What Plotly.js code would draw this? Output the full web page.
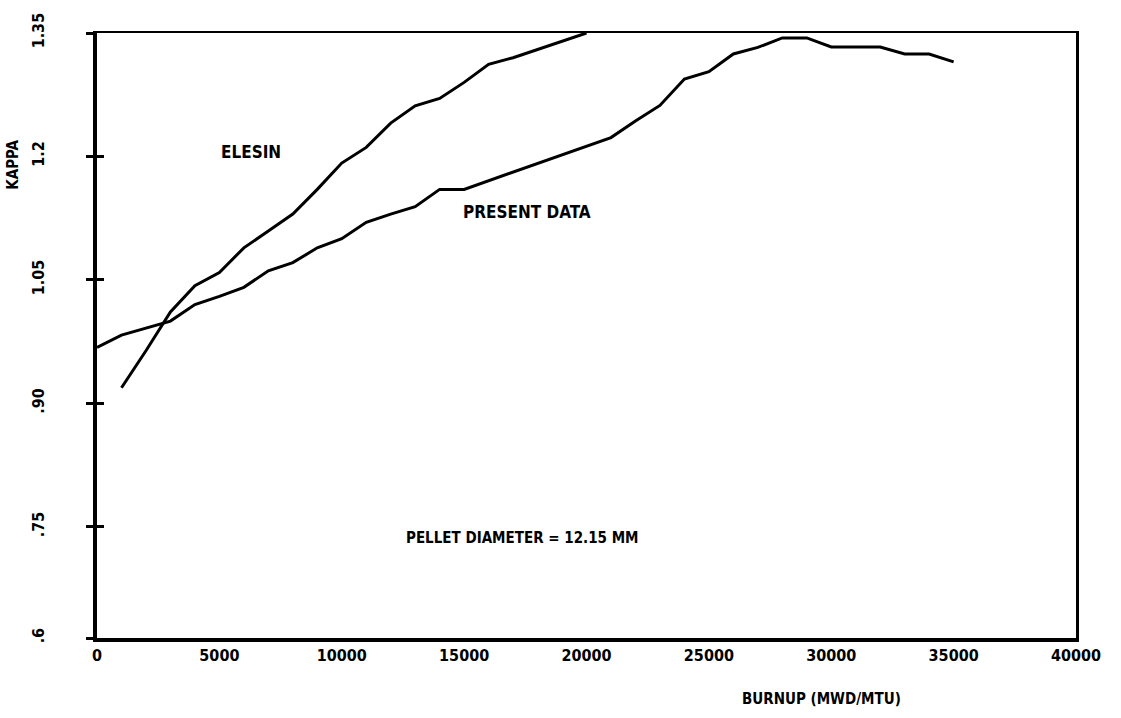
<!DOCTYPE html>
<html>
<head>
<meta charset="utf-8">
<script src="https://cdn.plot.ly/plotly-3.0.1.min.js"></script>
<style>html,body{margin:0;padding:0;background:#fff;}#chart{width:1121px;height:718px;}</style>
</head>
<body>
<div id="chart"></div>
<script>
// Burnup (MWD/MTU)
const presentBurnup = [0, 1000, 3000, 4000, 5000, 6000, 7000, 8000, 9000, 10000, 11000, 12000, 13000, 14000, 15000, 21000, 22000, 23000, 24000, 25000, 26000, 27000, 28000, 29000, 30000, 31000, 32000, 33000, 34000, 35000];
const presentKappa  = [0.968, 0.983, 1.000, 1.020, 1.030, 1.041, 1.061, 1.071, 1.089, 1.100, 1.120, 1.130, 1.139, 1.160, 1.160, 1.223, 1.243, 1.262, 1.294, 1.303, 1.3245, 1.3325, 1.344, 1.344, 1.333, 1.333, 1.333, 1.3245, 1.3245, 1.315];

const elesinBurnup = [1000, 2000, 3000, 4000, 5000, 6000, 7000, 8000, 9000, 10000, 11000, 12000, 13000, 14000, 15000, 16000, 17000, 18000, 19000, 20000];
const elesinKappa  = [0.919, 0.964, 1.011, 1.043, 1.059, 1.089, 1.1095, 1.130, 1.160, 1.192, 1.211, 1.2405, 1.2616, 1.2705, 1.290, 1.312, 1.320, 1.330, 1.3395, 1.350];

const xTickVals = [0, 5000, 10000, 15000, 20000, 25000, 30000, 35000, 40000];
const xTickText = ['0', '5000', '10000', '15000', '20000', '25000', '30000', '35000', '40000'];
// the original's lowest tick (".6") sits at the corner, slightly closer than the other intervals
const yTickVals = [0.615, 0.75, 0.9, 1.05, 1.2, 1.35];
const yTickText = ['.6', '.75', '.90', '1.05', '1.2', '1.35'];

const curveLabels = [
  {x: 6300, y: 1.206, text: 'ELESIN', size: 17},
  {x: 17550, y: 1.133, text: 'PRESENT DATA', size: 17},
  {x: 17400, y: 0.736, text: 'PELLET DIAMETER = 12.15 MM', size: 15}
];

const FONT = 'Liberation Sans Narrow, DejaVu Sans Condensed, Arial Narrow, sans-serif';
const font = (s) => ({family: FONT, size: s, color: '#000', weight: 'bold'});
const YR = [0.615, 1.35];

const traces = [
  {x: presentBurnup, y: presentKappa, type: 'scatter', mode: 'lines', line: {color: '#000', width: 3}, hoverinfo: 'skip'},
  {x: elesinBurnup, y: elesinKappa, type: 'scatter', mode: 'lines', line: {color: '#000', width: 3}, hoverinfo: 'skip'},
  {x: [null], y: [null], yaxis: 'y2', type: 'scatter', mode: 'lines', hoverinfo: 'skip'},
  {x: [null], y: [null], yaxis: 'y3', type: 'scatter', mode: 'lines', hoverinfo: 'skip'},
  {x: [null], y: [null], xaxis: 'x2', type: 'scatter', mode: 'lines', hoverinfo: 'skip'}
];

const annotations = curveLabels.map(l => ({
  x: l.x, y: l.y, xref: 'x', yref: 'y', text: l.text, showarrow: false,
  xanchor: 'center', yanchor: 'middle', font: font(l.size)
}));
annotations.push({xref: 'paper', yref: 'paper', x: -0.086, y: 0.782, xanchor: 'center', yanchor: 'middle',
  text: 'KAPPA', textangle: -90, showarrow: false, font: font(15)});
annotations.push({xref: 'paper', yref: 'paper', x: 0.74, y: -0.10, xanchor: 'center', yanchor: 'middle',
  text: 'BURNUP (MWD/MTU)', showarrow: false, font: font(15)});

const layout = {
  width: 1121, height: 718,
  margin: {l: 97, r: 45, t: 33, b: 80},
  paper_bgcolor: '#fff', plot_bgcolor: '#fff',
  showlegend: false,
  xaxis: {
    range: [0, 40000], tickvals: xTickVals, ticktext: xTickText,
    showgrid: false, zeroline: false, showline: true, linecolor: '#000', linewidth: 4,
    ticks: '', tickfont: font(16)
  },
  xaxis2: {
    overlaying: 'x', matches: 'x', side: 'top', range: [0, 40000],
    showgrid: false, zeroline: false, showline: true, linecolor: '#000', linewidth: 2,
    ticks: '', showticklabels: false
  },
  yaxis: {
    range: YR, tickvals: yTickVals, ticktext: yTickText,
    showgrid: false, zeroline: false, showline: true, linecolor: '#000', linewidth: 4,
    ticks: 'outside', ticklen: 7, tickwidth: 3, tickcolor: '#000',
    tickangle: -90, tickfont: font(16), ticklabelstandoff: 36
  },
  yaxis2: {
    overlaying: 'y', matches: 'y', range: YR, tickvals: yTickVals,
    showgrid: false, zeroline: false, showline: false, showticklabels: false,
    ticks: 'inside', ticklen: 7, tickwidth: 3, tickcolor: '#000'
  },
  yaxis3: {
    overlaying: 'y', matches: 'y', side: 'right', range: YR,
    showgrid: false, zeroline: false, showline: true, linecolor: '#000', linewidth: 3,
    ticks: '', showticklabels: false
  },
  annotations: annotations
};

Plotly.newPlot('chart', traces, layout, {staticPlot: true, displayModeBar: false});
</script>
</body>
</html>
